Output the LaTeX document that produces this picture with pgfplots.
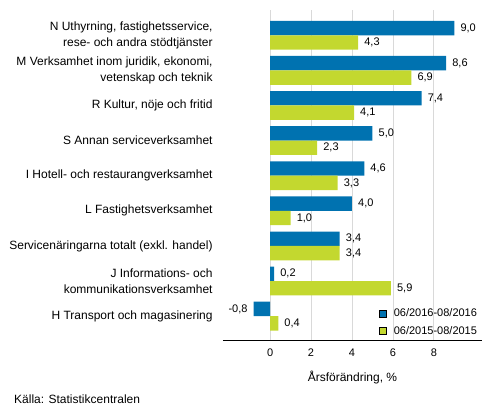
\documentclass[border=0pt]{standalone}
\usepackage{pgfplots}
\pgfplotsset{compat=1.18}
\usepackage{fontspec}
\setmainfont{Liberation Sans}
\definecolor{sfblue}{HTML}{0072B0}
\definecolor{sfgreen}{HTML}{C3D82F}
\definecolor{gridgray}{HTML}{D9D9D9}
\newcommand{\lbl}{\fontsize{12bp}{16bp}\selectfont}
\newcommand{\num}{\fontsize{11bp}{13bp}\selectfont}
\pgfplotsset{
  sqlegend/.style={legend image code/.code={%
    \filldraw[##1, draw=black, line width=0.6bp] (0bp,-3.5bp) rectangle (7bp,3.5bp);}},
}
\begin{document}
\begin{tikzpicture}
\begin{axis}[
  scale only axis, width=259bp, height=330bp,
  xbar, bar width=0.41,
  xmin=-2.3, xmax=10.35, ymin=-0.68, ymax=8.72,
  axis x line*=bottom, axis y line*=left,
  x axis line style={-, black, line width=0.8bp},
  y axis line style={draw=none},
  tick style={draw=none},
  xtick={2,4,6,8},
  extra x ticks={0},
  extra x tick style={grid style={black, line width=1bp}},
  xmajorgrids,
  major grid style={gridgray, line width=0.8bp},
  /pgf/number format/assume math mode=true,
  xticklabel style={font=\num, anchor=center, yshift=-13bp},
  ytick={0,...,8},
  yticklabels={
    {H Transport och magasinering},
    {J Informations- och\\kommunikationsverksamhet},
    {Servicenäringarna totalt (exkl. handel)},
    {L Fastighetsverksamhet},
    {I Hotell- och restaurangverksamhet},
    {S Annan serviceverksamhet},
    {R Kultur, nöje och fritid},
    {M Verksamhet inom juridik, ekonomi,\\vetenskap och teknik},
    {N Uthyrning, fastighetsservice,\\rese- och andra stödtjänster}},
  yticklabel style={font=\lbl, align=right, anchor=east, inner sep=0pt, xshift=-6bp},
  xlabel={Årsförändring, \%},
  xlabel style={font=\lbl, at={(rel axis cs:0.5,0)}, anchor=center, yshift=-38bp},
  nodes near coords={\pgfmathprintnumber[use comma,fixed,fixed zerofill,precision=1]{\pgfplotspointmeta}},
  nodes near coords style={font=\num, inner sep=0pt},
  every node near coord/.append style={inner xsep=6bp},
  legend style={at={(axis cs:5.32,0.27)}, anchor=north west, draw=none, fill=none,
    inner sep=0pt, font=\num, row sep=4bp, legend cell align=left,
    /tikz/every odd column/.append style={column sep=5bp}},
  clip=false,
]
\addplot[fill=sfblue, draw=none, bar shift=0.205, sqlegend] coordinates {
  (-0.8,0) (0.2,1) (3.4,2) (4.0,3) (4.6,4) (5.0,5) (7.4,6) (8.6,7) (9.0,8)};
\addplot[fill=sfgreen, draw=none, bar shift=-0.205, sqlegend] coordinates {
  (0.4,0) (5.9,1) (3.4,2) (1.0,3) (3.3,4) (2.3,5) (4.1,6) (6.9,7) (4.3,8)};
\legend{06/2016-08/2016, 06/2015-08/2015}
\coordinate (ll) at (rel axis cs:0,0);
\coordinate (ur) at (rel axis cs:1,1);
\end{axis}
\node[anchor=west, font=\lbl, inner sep=0pt] at ([xshift=-209bp, yshift=-59bp]ll) {Källa: Statistikcentralen};
\path (ll) ++(-223bp,-76bp) rectangle ++(493bp,416bp);
\end{tikzpicture}
\end{document}
